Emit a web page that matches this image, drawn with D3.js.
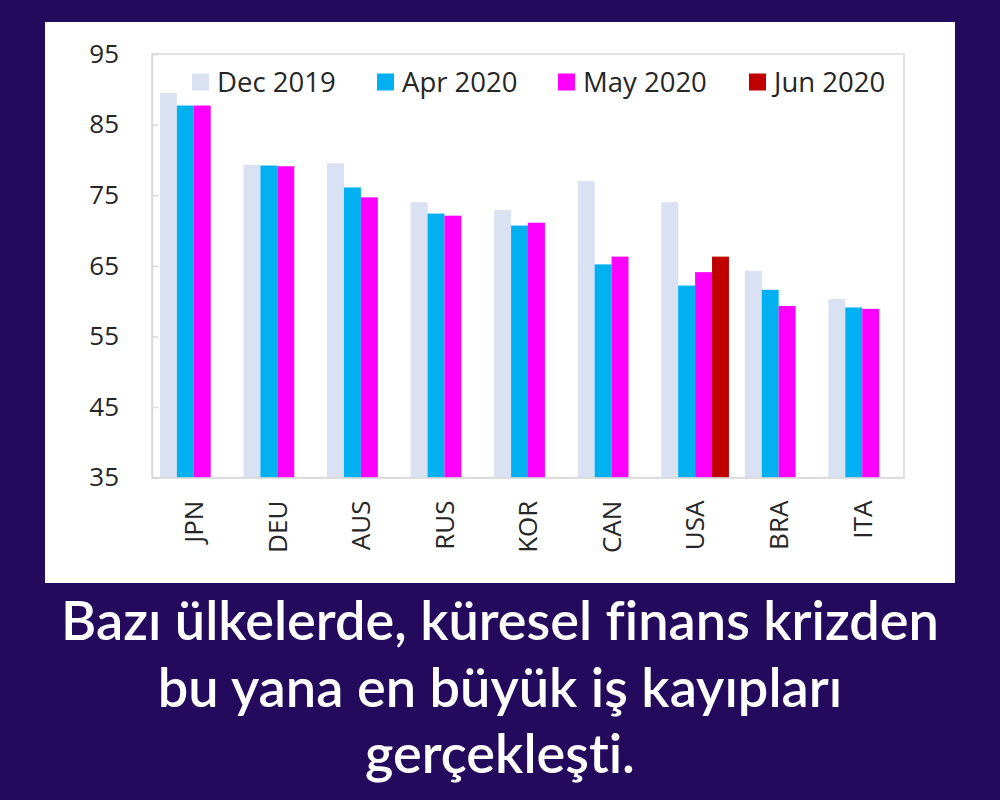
<!DOCTYPE html>
<html><head><meta charset="utf-8">
<script src="https://cdn.jsdelivr.net/npm/d3@7"></script>
<style>html,body{margin:0;padding:0;background:#230a5c;}svg{display:block;}text{font-variant-ligatures:none;font-feature-settings:"liga" 0,"clig" 0;}</style>
</head><body>
<script>
const categories = ["JPN","DEU","AUS","RUS","KOR","CAN","USA","BRA","ITA"];
const seriesNames = ["Dec 2019","Apr 2020","May 2020","Jun 2020"];
const dec2019 = [89.5, 79.3, 79.5, 74.0, 72.9, 77.0, 74.0, 64.3, 60.3];
const apr2020 = [87.7, 79.2, 76.1, 72.4, 70.7, 65.2, 62.2, 61.6, 59.1];
const may2020 = [87.7, 79.1, 74.7, 72.1, 71.1, 66.3, 64.1, 59.3, 58.9];
const jun2020 = [null, null, null, null, null, null, 66.3, null, null];
const yTicks = [35, 45, 55, 65, 75, 85, 95];
const captionLines = ["Bazı ülkelerde, küresel finans krizden","bu yana en büyük iş kayıpları","gerçekleşti."];
const colors = ["#d9e1f2","#00b0f0","#ff00ff","#c00000"];

const seriesValues = [dec2019, apr2020, may2020, jun2020];
const W = 1000, H = 800;
const svg = d3.select("body").append("svg").attr("width", W).attr("height", H);
svg.append("rect").attr("width", W).attr("height", H).attr("fill", "#230a5c");
svg.append("rect").attr("x", 45).attr("y", 22).attr("width", 910).attr("height", 561).attr("fill", "#ffffff");

const plot = {left: 152, right: 904, top: 54, bottom: 477.6};
const y = d3.scaleLinear().domain([35, 95]).range([plot.bottom, plot.top]);
const x0 = d3.scaleBand().domain(categories).range([plot.left, plot.right]).paddingInner(0.19).paddingOuter(0.095);
const x1 = d3.scaleBand().domain(seriesNames).range([0, x0.bandwidth()]);

// plot border
svg.append("rect").attr("x", plot.left).attr("y", plot.top)
  .attr("width", plot.right - plot.left).attr("height", plot.bottom - plot.top)
  .attr("fill", "none").attr("stroke", "#d9d9d9").attr("stroke-width", 1.5);

// bars
const data = [];
categories.forEach((c, i) => seriesNames.forEach((s, j) => {
  const v = seriesValues[j][i];
  if (v !== null) data.push({c, s, v, j});
}));
svg.append("g").selectAll("rect").data(data).join("rect")
  .attr("x", d => x0(d.c) + x1(d.s))
  .attr("y", d => y(d.v))
  .attr("width", x1.bandwidth())
  .attr("height", d => plot.bottom - y(d.v))
  .attr("fill", d => colors[d.j]);

// y axis
const yAxis = svg.append("g").attr("transform", `translate(${plot.left},0)`)
  .call(d3.axisLeft(y).tickValues(yTicks).tickSize(-6).tickPadding(33));
yAxis.select(".domain").attr("stroke", "#d9d9d9").attr("stroke-width", 1.5);
yAxis.selectAll(".tick line").attr("stroke", "#d9d9d9").attr("stroke-width", 1.5);
yAxis.selectAll(".tick text").attr("font-family", "'Open Sans', sans-serif").attr("font-size", 26).attr("fill", "#262626");

// x axis
const xAxis = svg.append("g").attr("transform", `translate(0,${plot.bottom})`)
  .call(d3.axisBottom(x0).tickSize(0));
xAxis.select(".domain").attr("stroke", "#d9d9d9").attr("stroke-width", 1.5);
xAxis.selectAll(".tick text")
  .attr("font-family", "'Open Sans', sans-serif").attr("font-size", 26).attr("fill", "#262626")
  .attr("text-anchor", "end").attr("transform", "translate(0,23) rotate(-90)")
  .attr("x", 0).attr("y", 0).attr("dy", "0.36em");

// legend
const legendX = [192, 377, 558, 749];
const lg = svg.append("g");
seriesNames.forEach((s, j) => {
  lg.append("rect").attr("x", legendX[j]).attr("y", 73.5).attr("width", 17).attr("height", 17).attr("fill", colors[j]);
  lg.append("text").attr("x", legendX[j] + 25).attr("y", 92)
    .attr("font-family", "'Open Sans', sans-serif").attr("font-size", 27.5).attr("fill", "#262626").text(s);
});

// caption
const baselines = [640, 707, 773];
const cap = svg.append("g");
const texts = captionLines.map((t, i) => cap.append("text")
  .attr("x", 500).attr("y", baselines[i]).attr("text-anchor", "middle")
  .attr("font-family", "Lato, sans-serif").attr("font-weight", 600)
  .style("font-variant-ligatures", "none")
  .attr("font-size", 50).attr("fill", "#ffffff").text(t));
const w0 = texts[0].node().getComputedTextLength();
const fs = 50 * 878 / w0;
texts.forEach(t => t.attr("font-size", fs));
</script>
</body></html>
